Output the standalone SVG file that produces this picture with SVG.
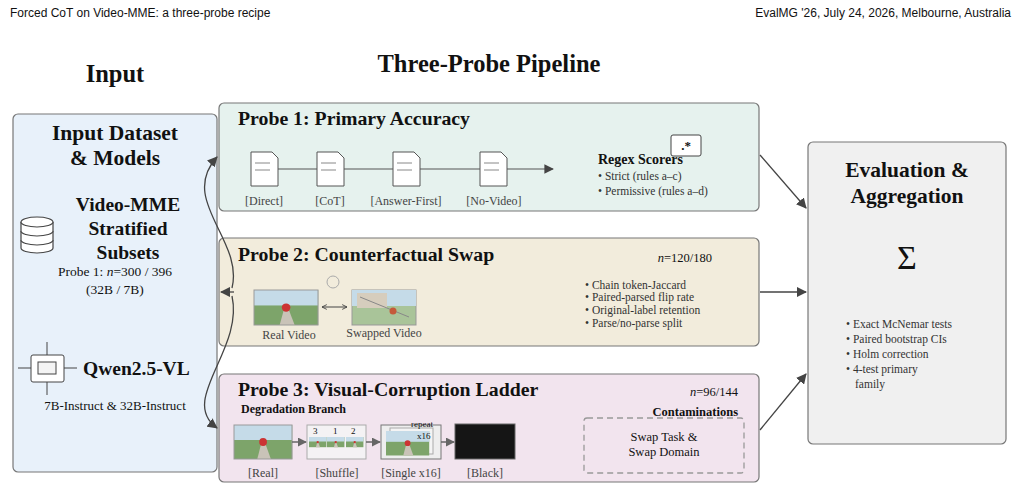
<svg xmlns="http://www.w3.org/2000/svg" width="1021" height="490" viewBox="0 0 1021 490">
<defs>
<style>
text{font-family:"Liberation Serif","DejaVu Serif",serif;fill:#111}
.hd{font-family:"Liberation Sans","DejaVu Sans",sans-serif;font-size:12px}
.h1{font-size:24.5px;font-weight:bold}
.pt{font-size:19.8px;font-weight:bold}
.sm{font-size:11.5px;fill:#333}
.lb{font-size:12px;fill:#444}
.box{stroke:#777;stroke-width:1.2}
.con{fill:none;stroke:#444;stroke-width:1.3}
.doc{fill:#fff;stroke:#555;stroke-width:1}
.dl{stroke:#888;stroke-width:1}
.c{text-anchor:middle}
.e{text-anchor:end}
</style>
<marker id="ah" viewBox="0 0 10 10" refX="9" refY="5" markerWidth="8" markerHeight="8" orient="auto-start-reverse"><path d="M0,0 L10,5 L0,10 z" fill="#444"/></marker>
<marker id="as" viewBox="0 0 10 10" refX="9" refY="5" markerWidth="6" markerHeight="6" orient="auto-start-reverse"><path d="M1,1 L9,5 L1,9" fill="none" stroke="#444" stroke-width="1.5"/></marker>
<marker id="ag" viewBox="0 0 10 10" refX="9" refY="5" markerWidth="6" markerHeight="6" orient="auto"><path d="M0,0 L10,5 L0,10 z" fill="#666"/></marker>
<g id="scene">
<rect width="60" height="34" fill="#7da46a"/><rect width="60" height="15" fill="#c5dbe8"/><path d="M24,34 L29,15 L31,15 L38,34 z" fill="#c9c3b8"/><circle cx="30" cy="17" r="4" fill="#c33"/>
</g>
</defs>
<rect width="1021" height="490" fill="#fff"/>
<text class="hd" x="10" y="17">Forced CoT on Video-MME: a three-probe recipe</text>
<text class="hd e" x="1011" y="17">EvalMG '26, July 24, 2026, Melbourne, Australia</text>
<text class="h1 c" x="115" y="82">Input</text>
<text class="h1 c" x="489" y="72">Three-Probe Pipeline</text>

<g id="input">
<rect class="box" x="13" y="114" width="204" height="358" rx="5" fill="#e8f1fa"/>
<text class="c" x="115" y="140" font-size="21.5" font-weight="bold">Input Dataset</text>
<text class="c" x="115" y="165" font-size="21.5" font-weight="bold">&amp; Models</text>
<g fill="#fff" stroke="#444" stroke-width="1.2">
<path d="M21,222 v26 a16,5 0 0 0 32,0 v-26"/><path d="M21,231 a16,5 0 0 0 32,0 M21,240 a16,5 0 0 0 32,0"/><ellipse cx="37" cy="222" rx="16" ry="5"/>
</g>
<text class="c" x="128" y="211" font-size="19.5" font-weight="bold">Video-MME</text>
<text class="c" x="128" y="235" font-size="19.5" font-weight="bold">Stratified</text>
<text class="c" x="128" y="259" font-size="19.5" font-weight="bold">Subsets</text>
<text class="c" x="115" y="276" font-size="13.5">Probe 1: <tspan font-style="italic">n</tspan>=300 / 396</text>
<text class="c" x="115" y="294" font-size="13.5">(32B / 7B)</text>
<g stroke="#444" stroke-width="1" fill="#fff">
<line x1="47" y1="342" x2="47" y2="395"/><line x1="18" y1="368" x2="77" y2="368"/>
<rect x="31" y="355" width="33" height="27" rx="2"/><rect x="38" y="362" width="18" height="12" fill="#f4f4f4"/>
</g>
<text x="83" y="375" font-size="19.5" font-weight="bold">Qwen2.5-VL</text>
<text class="c" x="115" y="410" font-size="13">7B-Instruct &amp; 32B-Instruct</text>
</g>

<g id="probe1">
<rect class="box" x="219" y="103" width="540" height="108" rx="5" fill="#e6f2ee"/>
<text class="pt" x="238" y="125">Probe 1: Primary Accuracy</text>
<line x1="277" y1="169" x2="553" y2="169" stroke="#555" stroke-width="1.2" marker-end="url(#ah)"/>
<g id="docs">
<path class="doc" d="M251,152 h21 l6,6 v28 h-27 z"/><line class="dl" x1="255" y1="163" x2="270" y2="163"/><line class="dl" x1="255" y1="170" x2="270" y2="170"/>
<path class="doc" d="M317,152 h21 l6,6 v28 h-27 z"/><line class="dl" x1="321" y1="163" x2="336" y2="163"/><line class="dl" x1="321" y1="170" x2="336" y2="170"/>
<path class="doc" d="M393,152 h21 l6,6 v28 h-27 z"/><line class="dl" x1="397" y1="163" x2="412" y2="163"/><line class="dl" x1="397" y1="170" x2="412" y2="170"/>
<path class="doc" d="M480,152 h21 l6,6 v28 h-27 z"/><line class="dl" x1="484" y1="163" x2="499" y2="163"/><line class="dl" x1="484" y1="170" x2="499" y2="170"/>
</g>
<text class="lb c" x="264" y="205">[Direct]</text>
<text class="lb c" x="330" y="205">[CoT]</text>
<text class="lb c" x="406" y="205">[Answer-First]</text>
<text class="lb c" x="494" y="205">[No-Video]</text>
<text x="598" y="164" font-size="14" font-weight="bold">Regex Scorers</text>
<rect x="671" y="135" width="30" height="21" rx="2" fill="#fff" stroke="#444"/>
<text class="c" x="686" y="150" font-size="13" font-family="Liberation Mono,monospace" font-weight="bold">.*</text>
<text class="sm" x="598" y="180">• Strict (rules a–c)</text>
<text class="sm" x="598" y="195">• Permissive (rules a–d)</text>
</g>

<g id="probe2">
<rect class="box" x="219" y="238" width="540" height="108" rx="5" fill="#f2ecdc"/>
<text class="pt" x="238" y="261">Probe 2: Counterfactual Swap</text>
<text class="e" x="712" y="262" font-size="12.5"><tspan font-style="italic">n</tspan>=120/180</text>
<circle cx="333" cy="282" r="6" fill="none" stroke="#aaa"/>
<use href="#scene" transform="translate(254,290) scale(1.07,1.03)"/>
<rect x="254" y="290" width="64" height="35" fill="none" stroke="#999"/>
<rect x="352" y="290" width="64" height="35" fill="#a9c499" stroke="#999"/>
<rect x="352" y="290" width="64" height="16" fill="#c5dbe8"/>
<rect x="357" y="293" width="30" height="15" fill="#d6cdbd"/>
<line x1="360" y1="297" x2="409" y2="317" stroke="#888"/>
<circle cx="393" cy="311" r="3.5" fill="#c55a3a"/>
<line x1="322" y1="307" x2="347" y2="307" stroke="#444" marker-start="url(#as)" marker-end="url(#as)" stroke-width="1"/>
<text class="lb c" x="289" y="339">Real Video</text>
<text class="lb c" x="384" y="337">Swapped Video</text>
<text class="sm" x="585" y="289">• Chain token-Jaccard</text>
<text class="sm" x="585" y="301">• Paired-parsed flip rate</text>
<text class="sm" x="585" y="314">• Original-label retention</text>
<text class="sm" x="585" y="327">• Parse/no-parse split</text>
</g>

<g id="probe3">
<rect class="box" x="219" y="374" width="540" height="108" rx="5" fill="#f2e4ee"/>
<text class="pt" x="238" y="396">Probe 3: Visual-Corruption Ladder</text>
<text x="241" y="413" font-size="12" font-weight="bold">Degradation Branch</text>
<text class="e" x="738" y="396" font-size="12.5"><tspan font-style="italic">n</tspan>=96/144</text>
<use href="#scene" transform="translate(234,425) scale(0.97,1)"/>
<rect x="234" y="425" width="58" height="34" fill="none" stroke="#999"/>
<rect x="307" y="425" width="59" height="34" fill="#f4f2f4" stroke="#aaa"/>
<use href="#scene" transform="translate(309,437) scale(0.29,0.3)"/>
<use href="#scene" transform="translate(327,437) scale(0.29,0.3)"/>
<use href="#scene" transform="translate(346,437) scale(0.29,0.3)"/>
<text x="313" y="434" font-size="9" fill="#444">3</text><text x="333" y="434" font-size="9" fill="#444">1</text><text x="351" y="434" font-size="9" fill="#444">2</text>
<rect x="381" y="425" width="60" height="34" fill="#eee" stroke="#777"/>
<rect x="390" y="428" width="43" height="26" fill="#f4f4f4" stroke="#aaa"/>
<use href="#scene" transform="translate(386,431) scale(0.72,0.72)"/>
<text x="411" y="427" font-size="9" fill="#666">repeat</text>
<text x="417" y="439" font-size="9" fill="#555">x16</text>
<rect x="455" y="424" width="60" height="35" fill="#151515" stroke="#666"/>
<line x1="292" y1="442" x2="306" y2="442" stroke="#666" stroke-width="1.5" marker-end="url(#ag)"/>
<line x1="366" y1="442" x2="380" y2="442" stroke="#666" stroke-width="1.5" marker-end="url(#ag)"/>
<line x1="441" y1="442" x2="454" y2="442" stroke="#666" stroke-width="1.5" marker-end="url(#ag)"/>
<text class="lb c" x="263" y="477">[Real]</text>
<text class="lb c" x="337" y="477">[Shuffle]</text>
<text class="lb c" x="411" y="477">[Single x16]</text>
<text class="lb c" x="485" y="477">[Black]</text>
<rect x="584" y="418" width="160" height="55" rx="3" fill="none" stroke="#999" stroke-width="1.3" stroke-dasharray="6,4"/>
<text class="e" x="738" y="416" font-size="12.5" font-weight="bold">Contaminations</text>
<text class="c" x="664" y="441" font-size="12.5" fill="#333">Swap Task &amp;</text>
<text class="c" x="664" y="456" font-size="12.5" fill="#333">Swap Domain</text>
</g>

<g id="eval">
<rect class="box" x="808" y="142" width="198" height="302" rx="5" fill="#f0f0f0"/>
<text class="c" x="907" y="177" font-size="21.5" font-weight="bold">Evaluation &amp;</text>
<text class="c" x="907" y="203" font-size="21.5" font-weight="bold">Aggregation</text>
<text class="c" x="907" y="269" font-size="34">Σ</text>
<text class="sm" x="846" y="328">• Exact McNemar tests</text>
<text class="sm" x="846" y="343">• Paired bootstrap CIs</text>
<text class="sm" x="846" y="358">• Holm correction</text>
<text class="sm" x="846" y="373">• 4-test primary</text>
<text class="sm" x="855" y="388">family</text>
</g>

<g id="connectors">
<path class="con" d="M232,288 C244,240 178,200 217,157" marker-end="url(#ah)"/>
<path class="con" d="M232,296 C244,350 178,400 217,428" marker-end="url(#ah)"/>
<path class="con" d="M234,292 L221,292" marker-end="url(#ah)"/>
<path class="con" d="M760,155 L806,208" marker-end="url(#ah)"/>
<path class="con" d="M760,292 L806,292" marker-end="url(#ah)"/>
<path class="con" d="M760,430 L806,374" marker-end="url(#ah)"/>
</g>
</svg>
